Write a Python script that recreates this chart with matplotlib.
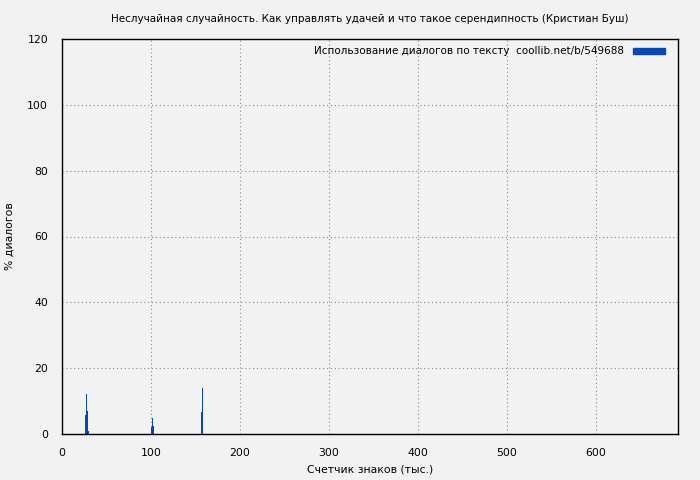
import matplotlib
matplotlib.use("Agg")
import matplotlib.pyplot as plt
from matplotlib.patches import Patch

# данные (тыс. знаков, % диалогов)
positions = [26, 27, 28, 29, 100, 101, 102, 156, 157]
percent = [5.8, 12.2, 7.0, 0.9, 2.1, 4.9, 2.4, 6.7, 14.0]
xticks = [0, 100, 200, 300, 400, 500, 600]
yticks = [0, 20, 40, 60, 80, 100, 120]

bg = "#f2f2f2"
bar_color = "#0a47b0"

plt.rcParams["font.family"] = "DejaVu Sans"
plt.rcParams["font.size"] = 7.8

fig = plt.figure(figsize=(7, 4.8), dpi=100, facecolor=bg)
ax = fig.add_axes([62 / 700, 1 - 434 / 480, 616 / 700, 395 / 480])
ax.set_facecolor(bg)

ax.bar(positions, percent, width=1.0, align="edge", color=bar_color, linewidth=0)

ax.set_xlim(0, 692)
ax.set_ylim(0, 120)
ax.set_xticks(xticks)
ax.set_yticks(yticks)
ax.grid(True, linestyle=(0, (1, 2.5)), color="#888888", linewidth=0.8)
ax.set_axisbelow(True)
for s in ax.spines.values():
    s.set_color("black")
    s.set_linewidth(1.0)
ax.tick_params(length=0, pad=10)

ax.set_xlabel("Счетчик знаков (тыс.)")
ax.set_ylabel("% диалогов")
ax.xaxis.set_label_coords(0.5, -35 / 395, transform=ax.transAxes)
ax.yaxis.set_label_coords(-52 / 616, 0.5, transform=ax.transAxes)
ax.xaxis.label.set_verticalalignment("center")
ax.yaxis.label.set_verticalalignment("center")
ax.set_title("Неслучайная случайность. Как управлять удачей и что такое серендипность (Кристиан Буш)",
             fontsize=7.5, pad=12)

leg = ax.legend([Patch(color=bar_color)],
                ["Использование диалогов по тексту  coollib.net/b/549688"],
                loc="upper right", bbox_to_anchor=(610 / 616, 1.0),
                frameon=False, markerfirst=False, fontsize=7.5,
                handlelength=3.0, handleheight=0.5, borderaxespad=0.3,
                handletextpad=0.9)

fig.savefig("out.png", dpi=100, facecolor=bg)
